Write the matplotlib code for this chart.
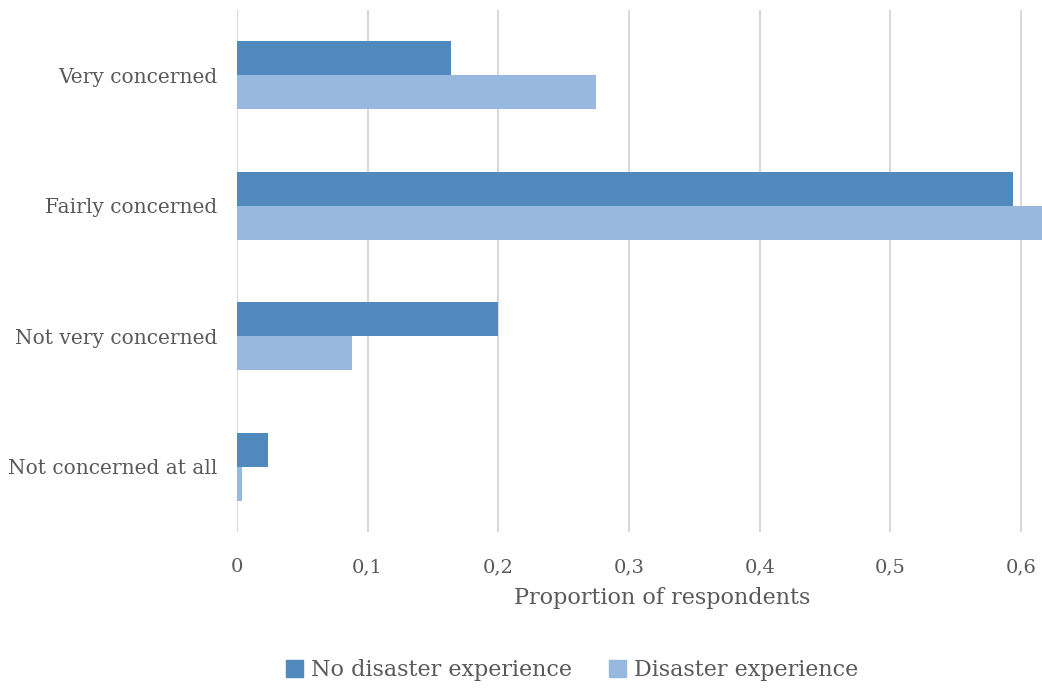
import matplotlib.pyplot as plt
from matplotlib.patches import Patch
from matplotlib.ticker import FuncFormatter
import numpy as np

# Datos
categorias = ["Very concerned", "Fairly concerned", "Not very concerned", "Not concerned at all"]
sin_desastre = [0.164, 0.594, 0.200, 0.024]
con_desastre = [0.275, 0.625, 0.088, 0.004]
series = ["No disaster experience", "Disaster experience"]
ticks_x = [0, 0.1, 0.2, 0.3, 0.4, 0.5, 0.6]

color_oscuro = "#4F89BD"
color_claro = "#98B9DF"
gris_texto = "#595959"

plt.rcParams['font.family'] = ['DejaVu Serif']

fig = plt.figure(figsize=(10.42, 6.88), dpi=100)
ax = fig.add_axes([0.2274, 0.2267, 0.7726, 0.7588])

y = np.arange(len(categorias))
alto = 0.26
ax.barh(y - alto / 2, sin_desastre, height=alto, color=color_oscuro, zorder=3)
ax.barh(y + alto / 2, con_desastre, height=alto, color=color_claro, zorder=3)

ax.set_ylim(len(categorias) - 0.5, -0.5)
ax.set_xlim(0, 0.616)
ax.set_yticks(y)
ax.set_yticklabels(categorias, fontsize=14.5, color=gris_texto)
ax.set_xticks(ticks_x)
ax.xaxis.set_major_formatter(FuncFormatter(lambda v, p: "0" if v == 0 else f"{v:.1f}".replace(".", ",")))
ax.tick_params(axis='x', labelsize=14, colors=gris_texto, length=0, pad=19)
ax.tick_params(axis='y', length=0, pad=14)
ax.grid(axis='x', color="#D9D9D9", linewidth=1.5, zorder=0)
for s in ax.spines.values():
    s.set_visible(False)

# Etiqueta del eje X (algo desplazada a la derecha, como en el original)
ax.set_xlabel("Proportion of respondents", fontsize=16, color=gris_texto)
ax.xaxis.set_label_coords(0.528, -0.106)

manijas = [Patch(color=color_oscuro), Patch(color=color_claro)]
fig.legend(manijas, series, loc='center', bbox_to_anchor=(0.549, 0.026), ncol=2, frameon=False,
           fontsize=16, handlelength=0.75, handleheight=0.75, handletextpad=0.35, columnspacing=1.7,
           labelcolor=gris_texto)

plt.savefig("out.png", dpi=100)
